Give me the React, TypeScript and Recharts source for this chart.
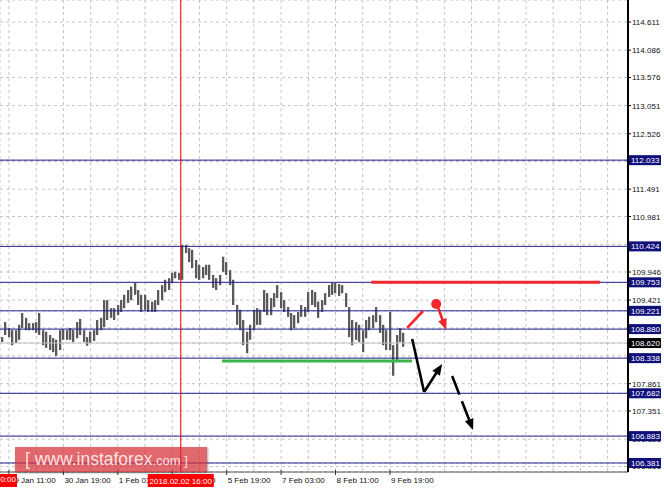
import { ComposedChart, Bar, XAxis, YAxis, CartesianGrid, ReferenceLine, ReferenceDot } from 'recharts';

const FONT = '"Liberation Sans", Arial, sans-serif';

// 2-hour bars, time in hours from 29 Jan 11:00
const startHour = -4;
const barStep = 2;

const highs = [
  108.73, 109.01, 108.90, 108.86, 108.86, 108.96, 109.18, 109.09, 108.99, 108.99,
  109.01, 109.18, 108.86, 108.83, 108.77, 108.71, 108.68, 108.86, 108.88, 108.86,
  108.90, 108.86, 109.01, 109.07, 108.86, 108.73, 108.83, 108.86, 109.05, 109.09,
  109.42, 109.42, 109.27, 109.27, 109.33, 109.42, 109.52, 109.61, 109.67, 109.74,
  109.61, 109.52, 109.52, 109.42, 109.39, 109.42, 109.61, 109.70, 109.80, 109.83,
  109.93, 109.95, 109.93, 110.45, 110.45, 110.39, 110.36, 110.17, 110.08, 110.04,
  110.08, 110.08, 109.89, 109.83, 109.89, 110.23, 110.13, 109.98, 109.80, 109.33,
  109.24, 109.05, 108.83, 108.96, 109.24, 109.27, 109.24, 109.61, 109.55, 109.46,
  109.55, 109.70, 109.57, 109.42, 109.29, 109.18, 109.14, 109.20, 109.33, 109.29,
  109.57, 109.61, 109.57, 109.39, 109.42, 109.55, 109.70, 109.74, 109.74, 109.72,
  109.70, 109.55, 109.29, 109.05, 109.01, 108.96, 108.86, 109.05, 109.11, 109.14,
  109.29, 109.14, 108.96, 108.86, 109.20, 108.58, 108.77, 108.90, 108.81,
];

const lows = [
  108.64, 108.77, 108.73, 108.58, 108.62, 108.68, 108.90, 108.86, 108.86, 108.86,
  108.81, 108.77, 108.58, 108.53, 108.49, 108.45, 108.38, 108.49, 108.68, 108.68,
  108.68, 108.64, 108.71, 108.77, 108.64, 108.57, 108.62, 108.66, 108.77, 108.86,
  108.92, 109.05, 109.09, 109.05, 109.14, 109.20, 109.27, 109.37, 109.42, 109.52,
  109.33, 109.20, 109.24, 109.20, 109.20, 109.20, 109.33, 109.42, 109.57, 109.61,
  109.74, 109.83, 109.80, 109.80, 110.30, 110.13, 110.02, 109.83, 109.80, 109.83,
  109.89, 109.80, 109.65, 109.61, 109.70, 109.95, 109.89, 109.70, 109.33, 108.96,
  108.86, 108.58, 108.43, 108.68, 108.86, 108.96, 108.96, 109.20, 109.14, 109.14,
  109.29, 109.46, 109.27, 109.20, 109.11, 108.86, 108.90, 108.99, 109.11, 109.11,
  109.20, 109.33, 109.29, 109.09, 109.20, 109.33, 109.48, 109.52, 109.55, 109.50,
  109.55, 109.29, 108.73, 108.58, 108.68, 108.64, 108.45, 108.71, 108.86, 108.90,
  109.01, 108.81, 108.58, 108.49, 108.49, 108.01, 108.27, 108.64, 108.55,
];

const priceTicks = [
  114.611, 114.086, 113.576, 113.051, 112.526, 112.008, 111.491, 110.981, 110.463,
  109.946, 109.421, 108.901, 108.381, 107.861, 107.351, 106.826, 106.316,
];

const levels = [112.033, 110.424, 109.753, 109.221, 108.880, 108.338, 107.682, 106.883, 106.381];
const lastPrice = 108.620;

const timeTicks = [0, 16, 32, 48, 64, 80, 96, 112, 128, 144, 160, 176, 192, 208, 224, 240, 256, 272, 288, 304, 320, 336, 352];
const timeLabels: Record<number, string> = {
  0: '29 Jan 11:00',
  32: '30 Jan 19:00',
  64: '1 Feb 03:00',
  96: '2 Feb 11:00',
  128: '5 Feb 19:00',
  160: '7 Feb 03:00',
  192: '8 Feb 11:00',
  224: '9 Feb 19:00',
};

const cursorHour = 101;
const cursorLabel = '2018.02.02 16:00';

// drawn analysis: [hour, price]
const resistance = [[213, 109.753], [347.6, 109.753]];
const support = [[125.3, 108.285], [237, 108.285]];
const redRise = [[234.1, 108.901], [243.5, 109.218]];
const redPoint = [251.2, 109.349];
const redDrop = [[252.4, 109.274], [257.1, 108.864]];
const blackPath = [[237.1, 108.696], [244.1, 107.707], [254.7, 108.229]];
const blackDash = [[260.6, 108.005], [272.9, 106.997]];

const data = highs.map((h, i) => ({ t: startHour + i * barStep, range: [lows[i], h] }));

const seg = (a: number[], b: number[]) => [{ x: a[0], y: a[1] }, { x: b[0], y: b[1] }];

const PriceBar = (props: any) => {
  const { x, y, width, height } = props;
  const cx = Math.round(x + width / 2);
  return (
    <g>
      <rect x={cx - 1} y={y} width={2.4} height={Math.max(height, 1)} fill="#8a8a8a" />
      <rect x={cx - 0.5} y={y} width={1} height={Math.max(height, 1)} fill="#2a2a2a" />
    </g>
  );
};

// x ticks: grid ticks with dates, plus the red cursor tag drawn last so it sits on top
const TimeTick = (props: any) => {
  const { x, y, payload } = props;
  if (payload.value === cursorHour) {
    return (
      <g>
        <rect x={x - 33} y={y + 2} width={66} height={13} fill="#ff0000" />
        <text x={x} y={y + 11.5} fontSize={8} fill="#fff" textAnchor="middle" fontFamily={FONT}>{cursorLabel}</text>
      </g>
    );
  }
  const label = timeLabels[payload.value];
  if (!label) return null;
  return (
    <g>
      <line x1={x} y1={y - 2} x2={x} y2={y + 3} stroke="#333" />
      <text x={x + 1} y={y + 11} fontSize={8} fill="#111" fontFamily={FONT}>{label}</text>
    </g>
  );
};

// y ticks: plain grid prices, then boxed level prices on top
const PriceTick = (props: any) => {
  const { x, y, payload } = props;
  const v = payload.value;
  const isLevel = levels.includes(v);
  if (isLevel || v === lastPrice) {
    return (
      <g>
        <rect x={x - 3} y={y - 5} width={32} height={10} fill={isLevel ? '#10107a' : '#000'} />
        <text x={x - 1} y={y + 3} fontSize={8} fill="#fff" fontFamily={FONT}>{v.toFixed(3)}</text>
      </g>
    );
  }
  return (
    <text x={x} y={y + 3} fontSize={8} fill="#111" fontFamily={FONT}>{v.toFixed(3)}</text>
  );
};

const arrow = (color: string, dash?: string) => (props: any) => {
  const { x1, y1, x2, y2 } = props;
  const ang = Math.atan2(y2 - y1, x2 - x1);
  const len = 11;
  const half = 4.5;
  const bx = x2 - len * Math.cos(ang);
  const by = y2 - len * Math.sin(ang);
  const px = -Math.sin(ang) * half;
  const py = Math.cos(ang) * half;
  return (
    <g>
      <line x1={x1} y1={y1} x2={bx + 2 * Math.cos(ang)} y2={by + 2 * Math.sin(ang)} stroke={color} strokeWidth={2.6} strokeDasharray={dash} />
      <polygon points={`${x2},${y2} ${bx + px},${by + py} ${bx - px},${by - py}`} fill={color} />
    </g>
  );
};

export default function App() {
  return (
    <div style={{ position: 'absolute', left: 0, top: 0, width: 664, height: 490, background: '#fff' }}>
      <ComposedChart width={664} height={490} data={data} margin={{ top: 0, right: 0, bottom: 0, left: 0 }}>
        <CartesianGrid stroke="#c4c4c4" strokeDasharray="3 3" />
        <XAxis
          type="number"
          dataKey="t"
          domain={[-5.3, 364]}
          ticks={[...timeTicks, cursorHour]}
          interval={0}
          height={18}
          tickSize={0}
          tickMargin={0}
          tickLine={false}
          axisLine={{ stroke: '#555' }}
          tick={<TimeTick />}
          allowDataOverflow
        />
        <YAxis
          orientation="right"
          domain={[106.213, 115.022]}
          ticks={[...priceTicks, lastPrice, ...levels]}
          interval={0}
          width={36}
          tickSize={3}
          tickMargin={1}
          tickLine={{ stroke: '#000' }}
          axisLine={{ stroke: '#000', strokeWidth: 2 }}
          tick={<PriceTick />}
          allowDataOverflow
        />
        <ReferenceLine y={lastPrice} stroke="#c4c4c4" />
        {levels.map((v) => (
          <ReferenceLine key={v} y={v} stroke="#22229a" />
        ))}
        <Bar dataKey="range" barSize={3} shape={<PriceBar />} isAnimationActive={false} />
        <ReferenceLine x={cursorHour} stroke="#ff0000" />
        <ReferenceLine segment={seg(resistance[0], resistance[1])} stroke="#f0282d" strokeWidth={3} />
        <ReferenceLine segment={seg(support[0], support[1])} stroke="#3db54a" strokeWidth={3} />
        <ReferenceLine segment={seg(redRise[0], redRise[1])} stroke="#f0282d" strokeWidth={2.6} />
        <ReferenceDot x={redPoint[0]} y={redPoint[1]} r={5} fill="#f0282d" stroke="none" />
        <ReferenceLine segment={seg(redDrop[0], redDrop[1])} shape={arrow('#f0282d')} />
        <ReferenceLine segment={seg(blackPath[0], blackPath[1])} stroke="#000" strokeWidth={2.6} />
        <ReferenceLine segment={seg(blackPath[1], blackPath[2])} shape={arrow('#000')} />
        <ReferenceLine segment={seg(blackDash[0], blackDash[1])} shape={arrow('#000', '20 7')} />
      </ComposedChart>
      <div style={{ position: 'absolute', left: 0, top: 474, width: 17, height: 13, background: '#ff0000', overflow: 'hidden' }}>
        <div style={{ position: 'absolute', right: 1, top: 1, fontSize: 8, color: '#fff', fontFamily: FONT, whiteSpace: 'nowrap' }}>0:00</div>
      </div>
      <div
        style={{
          position: 'absolute', left: 15, top: 447, width: 192, height: 25,
          background: 'rgba(214, 46, 52, 0.72)', boxShadow: '1px 1px 2px rgba(0,0,0,0.35)',
          fontFamily: FONT, color: 'rgba(255,240,240,0.92)', whiteSpace: 'nowrap',
          lineHeight: '25px', paddingLeft: 10, boxSizing: 'border-box',
        }}
      >
        <span style={{ fontSize: 17.5 }}>[ www.instaforex</span>
        <span style={{ fontSize: 13 }}>.com ]</span>
      </div>
    </div>
  );
}
